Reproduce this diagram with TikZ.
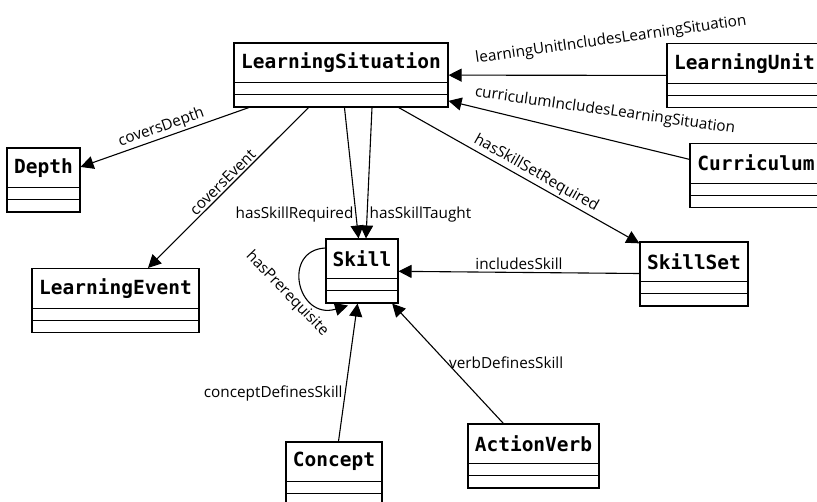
\documentclass[tikz,border=0pt]{standalone}
\usepackage{fontspec}
\setmainfont{Open Sans}
\newfontfamily\classfont{DejaVu Sans Mono}
\usepackage{tikz}
\usetikzlibrary{arrows.meta}

\newcommand{\umlclass}[4]{%
  \node[classbox, minimum width=#3] (#1) at (#2) {};
  \node[classtitle, minimum width=#3, anchor=north] (#1-t) at (#1.north) {#4};
  \draw[classline] (#1-t.south west) -- (#1-t.south east)
    ([yshift=-12pt]#1-t.south west) -- ([yshift=-12pt]#1-t.south east);
}

\begin{document}
\begin{tikzpicture}[x=1pt, y=-1pt,
  classbox/.style={draw, line width=1.1pt, minimum height=64pt, inner sep=0pt},
  classtitle/.style={minimum height=40pt, inner sep=0pt, font=\classfont\bfseries\fontsize{19.5}{19.5}\selectfont},
  classline/.style={line width=1.1pt},
  assoc/.style={line width=1.1pt, -{Triangle[length=13pt, width=13pt]}},
  lbl/.style={font=\fontsize{15.3}{16}\selectfont, inner sep=2pt}]
  \useasboundingbox (0,0) rectangle (817,502);
  \umlclass{ls}{341,75}{214pt}{LearningSituation}
  \umlclass{lu}{744.5,75.5}{155pt}{LearningUnit}
  \umlclass{cur}{756,175.5}{132pt}{Curriculum}
  \umlclass{depth}{43.5,180}{73pt}{Depth}
  \umlclass{event}{115.5,300.5}{167pt}{LearningEvent}
  \umlclass{skill}{362,271}{72pt}{Skill}
  \umlclass{skillset}{694,274}{108pt}{SkillSet}
  \umlclass{concept}{334,474}{96pt}{Concept}
  \umlclass{verb}{533.5,456}{131pt}{ActionVerb}
  \draw[assoc] (lu) -- (ls) node[lbl, rotate=8] at (611,40) {learningUnitIncludesLearningSituation};
  \draw[assoc] (cur) -- (ls) node[lbl, rotate=-8] at (605,111) {curriculumIncludesLearningSituation};
  \draw[assoc] (ls) -- (depth) node[lbl, midway, sloped, above] {coversDepth};
  \draw[assoc] (ls) -- (event) node[lbl, midway, sloped, above] {coversEvent};
  \draw[assoc] (ls) -- (skill) node[lbl, pos=0.82, left] {hasSkillRequired};
  \draw[assoc] ([xshift=31pt]ls.south) -- ([xshift=4pt]skill.north) node[lbl, pos=0.82, right] {hasSkillTaught};
  \draw[assoc] (ls) -- (skillset) node[lbl, pos=0.55, sloped, above] {hasSkillSetRequired};
  \draw[assoc] (skillset) -- (skill) node[lbl, midway, above] {includesSkill};
  \draw[assoc] ([yshift=23pt]skill.west) .. controls +(-44,2) and +(-51,15) .. ([xshift=-14pt, yshift=-2pt]skill.south)
    node[lbl, rotate=-46] at (287,294) {hasPrerequisite};
  \draw[assoc] (concept) -- (skill) node[lbl, pos=0.35, left] {conceptDefinesSkill};
  \draw[assoc] (verb) -- (skill) node[lbl, pos=0.51, right] {verbDefinesSkill};
\end{tikzpicture}
\end{document}
